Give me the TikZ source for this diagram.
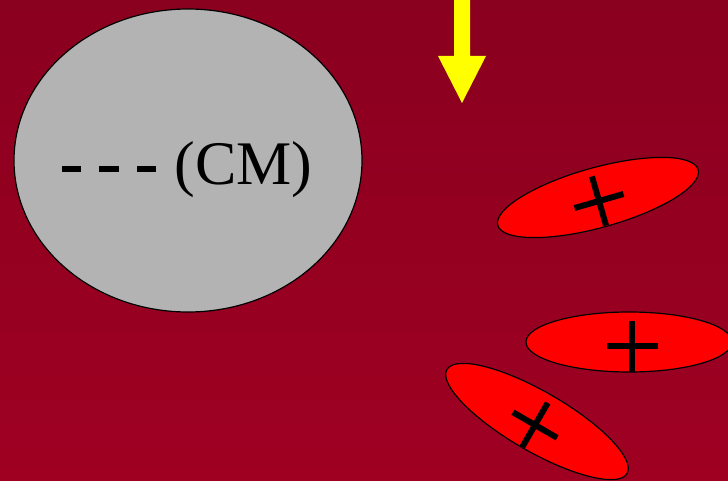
\documentclass[tikz,border=0pt]{standalone}
\usepackage{fontspec}
\setmainfont{Liberation Serif}
\usetikzlibrary{shapes.geometric}
\definecolor{bgtop}{RGB}{138,0,31}
\definecolor{bgbot}{RGB}{159,0,34}
\definecolor{cellgray}{RGB}{179,179,179}
\definecolor{arrowyellow}{RGB}{255,255,0}
\tikzset{
  cell/.style={ellipse, draw=black, line width=1.2pt, fill=cellgray,
    minimum width=348pt, minimum height=303pt, inner sep=0pt},
  ion/.style={ellipse, draw=black, line width=1.2pt, fill=red,
    minimum width=208pt, minimum height=60pt, inner sep=0pt},
  crossbar/.style={line width=6pt, black},
  dashbar/.style={fill=black, draw=none}
}
\begin{document}
\begin{tikzpicture}[x=1pt,y=1pt]
  % background with a soft vertical gradient
  \shade[top color=bgtop, bottom color=bgbot] (0,0) rectangle (728,480);
  \useasboundingbox (0,0) rectangle (728,480);

  % large grey cell with its label
  \node[cell] (cellA) at (188,319.5) {};
  \fill[dashbar] (62,308) rectangle (81,314);
  \fill[dashbar] (99,308) rectangle (119,314);
  \fill[dashbar] (137,308) rectangle (156,314);
  \node[anchor=base, inner sep=0pt, font=\fontsize{62}{62}\selectfont] (lbl) at (243.5,295) {(CM)};

  % yellow arrow entering from the top
  \coordinate (arrA) at (454,480);
  \fill[arrowyellow] (454,480) -- (470,480) -- (470,424) -- (486,424)
    -- (462,377) -- (438,424) -- (454,424) -- cycle;

  % three positive ions
  \node[ion, rotate=15.5] (ionA) at (598,282.5) {};
  \node[ion, minimum width=206pt] (ionB) at (629,138) {};
  \node[ion, rotate=-30] (ionC) at (537,58.5) {};

  % plus signs on the ions
  \begin{scope}[shift={(599,279)}, rotate=16]
    \draw[crossbar] (-25.5,0) -- (25.5,0);
    \draw[crossbar] (0,-25.5) -- (0,25.5);
  \end{scope}
  \begin{scope}[shift={(632,134)}]
    \draw[crossbar] (-25.5,0) -- (25.5,0);
    \draw[crossbar] (0,-25.5) -- (0,25.5);
  \end{scope}
  \begin{scope}[shift={(535,55)}, rotate=-30]
    \draw[crossbar] (-25.5,0) -- (25.5,0);
    \draw[crossbar] (0,-25.5) -- (0,25.5);
  \end{scope}
\end{tikzpicture}
\end{document}
